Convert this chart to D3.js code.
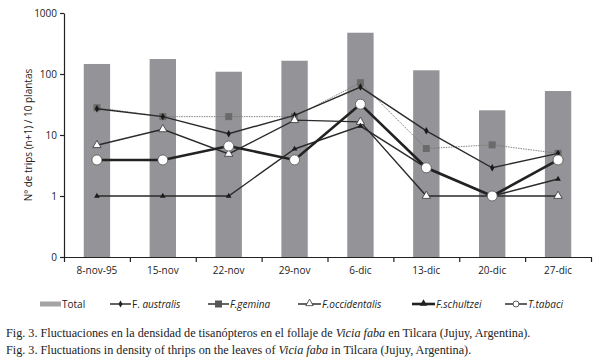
<!DOCTYPE html>
<html>
<head>
<meta charset="utf-8">
<script src="https://cdn.jsdelivr.net/npm/d3@7"></script>
<style>
  body { margin: 0; background: #fff; }
  svg { display: block; }
</style>
</head>
<body>
<svg id="chart"></svg>
<script>
// dates sampled
const dates = ['8-nov-95', '15-nov', '22-nov', '29-nov', '6-dic', '13-dic', '20-dic', '27-dic'];
// total thrips per date (bars)
const total = [146, 176, 109, 165, 475, 115, 25.4, 52.6];
// species, n+1 per 10 plants
const australis = [27, 20, 10.5, 21, 61, 11.7, 2.9, 5];
const gemina = [28, 20, 20, 20, 72, 6, 6.9, 5];
const occidentalis = [6.8, 12.4, 4.9, 17.5, 16.4, 1, 1, 1];
const schultzei = [1, 1, 1, 5.9, 14, 2.9, 1, 1.9];
const tabaci = [3.9, 3.9, 6.6, 3.9, 32, 2.9, 1, 3.9];
const yTicks = [0.1, 1, 10, 100, 1000];

const width = 602, height = 362;
const margin = { top: 13, right: 11, bottom: 105, left: 64 };
const innerW = width - margin.left - margin.right;
const innerH = height - margin.top - margin.bottom;

const svg = d3.select('#chart').attr('width', width).attr('height', height)
  .style('font-family', '"Open Sans", sans-serif');

const chart = svg.append('g').attr('transform', `translate(${margin.left},${margin.top})`);

const x = d3.scaleBand().domain(dates).range([0, innerW]).paddingInner(0.6).paddingOuter(0.3);
const xEdge = d3.scaleLinear().domain([0, dates.length]).range([0, innerW]);
const y = d3.scaleLog().domain([0.1, 1000]).range([innerH, 0]);

// bars
chart.selectAll('rect.bar')
  .data(total)
  .join('rect')
  .attr('class', 'bar')
  .attr('x', (d, i) => x(dates[i]))
  .attr('y', d => y(d))
  .attr('width', x.bandwidth())
  .attr('height', d => innerH - y(d))
  .attr('fill', '#949498');

// axes
const yAxis = chart.append('g')
  .call(d3.axisLeft(y).tickValues(yTicks).tickSize(4).tickSizeOuter(0)
    .tickFormat(d => d < 1 ? '0' : d3.format('d')(d)));
yAxis.selectAll('text').attr('font-size', 10).attr('fill', '#222').attr('x', -7)
  .style('font-family', '"Open Sans", sans-serif');

const xTickAxis = chart.append('g').attr('transform', `translate(0,${innerH})`)
  .call(d3.axisBottom(xEdge).tickValues(d3.range(0, dates.length + 1)).tickSize(5)
    .tickSizeOuter(0).tickFormat(''));

const xLabelAxis = chart.append('g').attr('transform', `translate(0,${innerH})`)
  .call(d3.axisBottom(x).tickSize(0).tickPadding(10));
xLabelAxis.select('.domain').remove();
xLabelAxis.selectAll('text').attr('font-size', 10).attr('fill', '#222')
  .style('font-family', '"Open Sans", sans-serif');

chart.selectAll('.domain, .tick line').attr('stroke', '#222').attr('stroke-width', 1.2);

// y title
svg.append('text')
  .attr('transform', `translate(32,${margin.top + 122}) rotate(-90)`)
  .attr('text-anchor', 'middle')
  .attr('font-size', 10)
  .attr('fill', '#222')
  .text('Nº de trips (n+1) / 10 plantas');

const line = d3.line().x((d, i) => x(dates[i]) + x.bandwidth() / 2).y(d => y(d));
const cx = (d, i) => x(dates[i]) + x.bandwidth() / 2;

const triangle = d3.symbol().type(d3.symbolTriangle);
const diamond = d3.symbol().type(d3.symbolDiamond);

// F. gemina
chart.append('path').datum(gemina).attr('d', line).attr('fill', 'none')
  .attr('stroke', '#777').attr('stroke-width', 0.9).attr('stroke-dasharray', '1.5,1');
chart.selectAll('rect.gem').data(gemina).join('rect').attr('class', 'gem')
  .attr('x', (d, i) => cx(d, i) - 3.5).attr('y', d => y(d) - 3.5)
  .attr('width', 7).attr('height', 7).attr('fill', '#6a6a6a');

// F. australis
chart.append('path').datum(australis).attr('d', line).attr('fill', 'none')
  .attr('stroke', '#2a2a2a').attr('stroke-width', 1.4);
chart.selectAll('path.aus').data(australis).join('path').attr('class', 'aus')
  .attr('d', diamond.size(16)())
  .attr('transform', (d, i) => `translate(${cx(d, i)},${y(d)})`).attr('fill', '#1a1a1a');

// F. occidentalis
chart.append('path').datum(occidentalis).attr('d', line).attr('fill', 'none')
  .attr('stroke', '#2a2a2a').attr('stroke-width', 1.4);
chart.selectAll('path.occ').data(occidentalis).join('path').attr('class', 'occ')
  .attr('d', triangle.size(30)())
  .attr('transform', (d, i) => `translate(${cx(d, i)},${y(d)})`)
  .attr('fill', '#fff').attr('stroke', '#333').attr('stroke-width', 0.8);

// F. schultzei
chart.append('path').datum(schultzei).attr('d', line).attr('fill', 'none')
  .attr('stroke', '#2a2a2a').attr('stroke-width', 1.4);
chart.selectAll('path.sch').data(schultzei).join('path').attr('class', 'sch')
  .attr('d', triangle.size(14)())
  .attr('transform', (d, i) => `translate(${cx(d, i)},${y(d)})`).attr('fill', '#1a1a1a');

// T. tabaci
chart.append('path').datum(tabaci).attr('d', line).attr('fill', 'none')
  .attr('stroke', '#222').attr('stroke-width', 2.6);
chart.selectAll('circle.tab').data(tabaci).join('circle').attr('class', 'tab')
  .attr('cx', cx).attr('cy', d => y(d)).attr('r', 5)
  .attr('fill', '#fff').attr('stroke', '#555').attr('stroke-width', 0.8);

// legend
const ly = 304;
const legend = svg.append('g').attr('font-size', 10).attr('fill', '#222');
legend.append('rect').attr('x', 40).attr('y', ly - 2.5).attr('width', 21).attr('height', 5).attr('fill', '#a4a4a6');
legend.append('text').attr('x', 62).attr('y', ly + 3.5).text('Total');

const items = [
  { x0: 110, x1: 131, name: 'australis', mark: 'diamond', w: 1.4 },
  { x0: 208, x1: 229, name: 'gemina', mark: 'square', w: 1.4 },
  { x0: 298, x1: 321, name: 'occidentalis', mark: 'otri', w: 1.4 },
  { x0: 412, x1: 435, name: 'schultzei', mark: 'ftri', w: 2.6 },
  { x0: 505, x1: 527, name: 'tabaci', mark: 'circle', w: 1.4 }
];
items.forEach(it => {
  const g = legend.append('g');
  const mx = (it.x0 + it.x1) / 2;
  g.append('line').attr('x1', it.x0).attr('x2', it.x1).attr('y1', ly).attr('y2', ly)
    .attr('stroke', '#222').attr('stroke-width', it.w);
  if (it.mark === 'diamond') {
    g.append('path').attr('d', diamond.size(14)()).attr('transform', `translate(${mx},${ly})`).attr('fill', '#222');
  } else if (it.mark === 'square') {
    g.append('rect').attr('x', mx - 3.5).attr('y', ly - 3.5).attr('width', 7).attr('height', 7).attr('fill', '#555');
  } else if (it.mark === 'otri') {
    g.append('path').attr('d', triangle.size(24)()).attr('transform', `translate(${mx},${ly - 0.5})`)
      .attr('fill', '#fff').attr('stroke', '#333').attr('stroke-width', 0.8);
  } else if (it.mark === 'ftri') {
    g.append('path').attr('d', triangle.size(24)()).attr('transform', `translate(${mx},${ly - 0.5})`).attr('fill', '#222');
  } else {
    g.append('circle').attr('cx', mx).attr('cy', ly).attr('r', 3).attr('fill', '#fff')
      .attr('stroke', '#333').attr('stroke-width', 0.8);
  }
  const t = g.append('text').attr('x', it.x1 + 1).attr('y', ly + 3.5);
  const prefix = it.name === 'gemina' || it.name === 'occidentalis' || it.name === 'schultzei' ? 'F.' : (it.name === 'tabaci' ? 'T.' : 'F. ');
  t.append('tspan').text(prefix).attr('font-style', it.name === 'australis' ? 'normal' : 'italic');
  t.append('tspan').text(it.name).attr('font-style', 'italic');
});

// caption
const cap = svg.append('g').attr('font-family', '"Liberation Serif", "Times New Roman", serif')
  .attr('font-size', 12.2).attr('fill', '#222');
const c1 = cap.append('text').attr('x', 6).attr('y', 337);
c1.append('tspan').text('Fig. 3. Fluctuaciones en la densidad de tisanópteros en el follaje de ');
c1.append('tspan').attr('font-style', 'italic').text('Vicia faba');
c1.append('tspan').text(' en Tilcara (Jujuy, Argentina).');
const c2 = cap.append('text').attr('x', 6).attr('y', 354);
c2.append('tspan').text('Fig. 3. Fluctuations in density of thrips on the leaves of ');
c2.append('tspan').attr('font-style', 'italic').text('Vicia faba');
c2.append('tspan').text(' in Tilcara (Jujuy, Argentina).');
</script>
</body>
</html>
